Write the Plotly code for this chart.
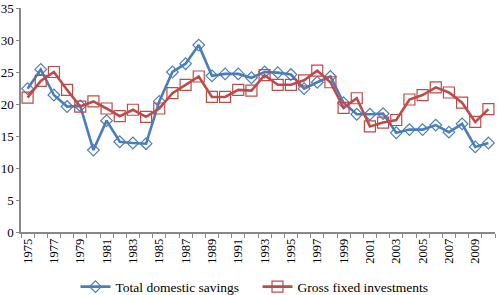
import plotly.graph_objects as go

years = [1975, 1976, 1977, 1978, 1979, 1980, 1981, 1982, 1983, 1984,
         1985, 1986, 1987, 1988, 1989, 1990, 1991, 1992, 1993, 1994,
         1995, 1996, 1997, 1998, 1999, 2000, 2001, 2002, 2003, 2004,
         2005, 2006, 2007, 2008, 2009, 2010]

savings = [22.4, 25.4, 21.4, 19.6, 19.7, 12.8, 17.4, 14.1, 13.9, 13.8,
           20.4, 25.0, 26.3, 29.2, 24.4, 24.7, 24.7, 24.1, 25.0, 24.9,
           24.6, 22.4, 23.4, 24.3, 20.2, 18.4, 18.4, 18.5, 15.5, 16.0,
           16.0, 16.7, 15.6, 16.9, 13.3, 13.9]

investments = [21.0, 23.6, 25.0, 22.2, 19.6, 20.4, 19.3, 18.1, 19.1, 18.0,
               19.3, 21.7, 23.0, 24.3, 21.1, 21.1, 22.2, 22.1, 24.5, 23.0,
               23.0, 23.7, 25.2, 23.4, 19.4, 20.9, 16.5, 17.1, 17.5, 20.7,
               21.4, 22.6, 21.8, 20.2, 17.2, 19.2]

label_years = years[::2]
y_ticks = [0, 5, 10, 15, 20, 25, 30, 35]

blue = "#4A7EBB"
red = "#BE4B48"
serif = "Liberation Serif, Times New Roman, serif"

fig = go.Figure()
fig.add_trace(go.Scatter(
    x=years, y=savings, name="Total domestic savings", mode="lines+markers",
    line=dict(color=blue, width=2.6),
    marker=dict(symbol="diamond-open", size=9, color=blue, line=dict(width=1.2)),
))
fig.add_trace(go.Scatter(
    x=years, y=investments, name="Gross fixed investments", mode="lines+markers",
    line=dict(color=red, width=2.6),
    marker=dict(symbol="square-open", size=11, color=red, line=dict(width=1.2)),
))

fig.update_layout(
    width=497, height=295,
    margin=dict(l=21, r=2, t=8, b=63, autoexpand=False),
    paper_bgcolor="white", plot_bgcolor="white",
    font=dict(family=serif, size=13, color="#000000"),
    showlegend=True,
    legend=dict(orientation="h", x=0.115, xanchor="left", y=-0.245, yanchor="middle",
                font=dict(family=serif, size=13.5), itemwidth=30, entrywidth=137,
                bgcolor="rgba(0,0,0,0)"),
    xaxis=dict(
        range=[years[0] - 0.5, years[-1] + 0.5], automargin=False,
        tickmode="array", tickvals=label_years, ticktext=[str(y) for y in label_years],
        tickangle=-90, tickfont=dict(family=serif, size=12.5),
        ticks="", showgrid=False, zeroline=False,
        showline=True, linecolor="#888888", linewidth=1.5,
        minor=dict(ticks="outside", tick0=years[0] - 0.5, dtick=1, ticklen=4,
                   tickcolor="#888888", showgrid=False),
    ),
    yaxis=dict(
        range=[0, 35], tickmode="array", tickvals=y_ticks, automargin=False,
        ticks="outside", ticklen=3, tickcolor="#888888",
        showgrid=False, zeroline=False,
        showline=True, linecolor="#888888", linewidth=1.5,
        tickfont=dict(family=serif, size=13),
    ),
)

fig.write_html("out.html", config={"displayModeBar": False},
               post_script="document.body.style.margin='0';document.body.style.overflow='hidden';")
